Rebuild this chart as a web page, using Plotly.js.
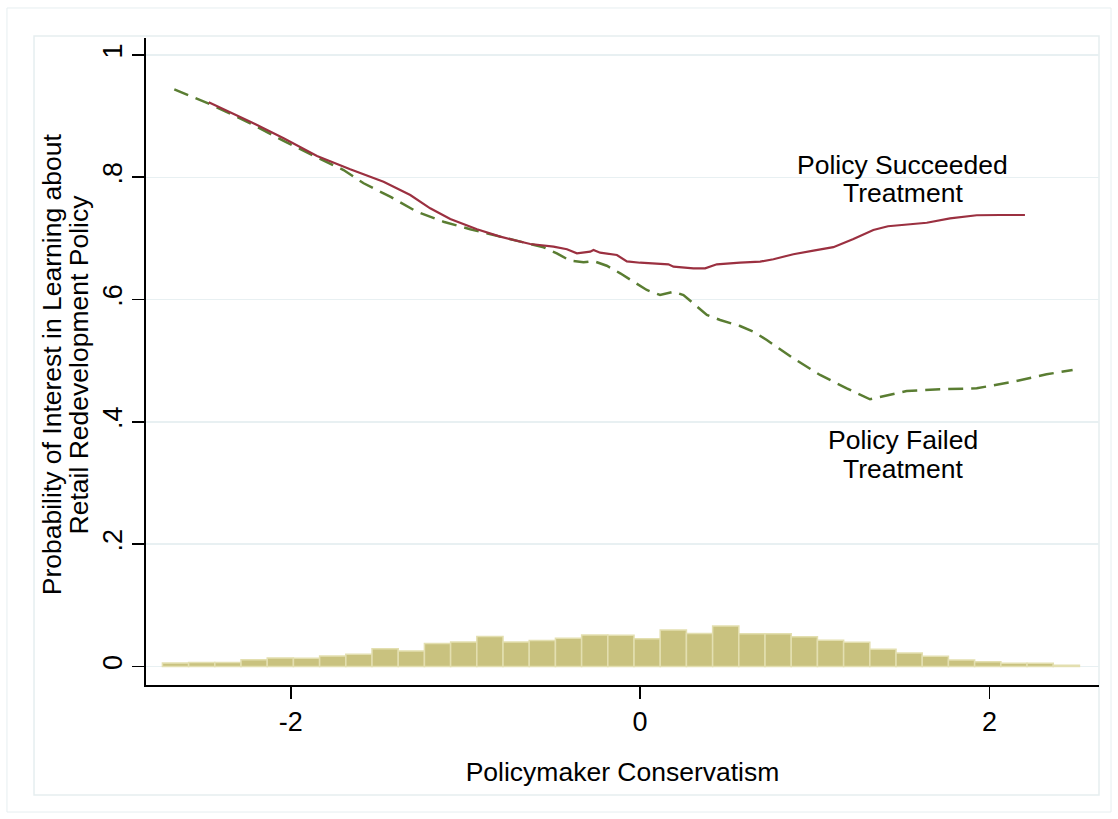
<!DOCTYPE html>
<html>
<head>
<meta charset="utf-8">
<script src="https://cdn.plot.ly/plotly-3.0.1.min.js"></script>
<style>
html,body{margin:0;padding:0;background:#fff;}
#chart{width:1118px;height:819px;}
</style>
</head>
<body>
<div id="chart"></div>
<script>
// Histogram of policymaker conservatism (bin centers, bin width 0.15)
var binCenters = [-2.66,-2.51,-2.36,-2.21,-2.06,-1.91,-1.76,-1.61,-1.46,-1.31,-1.16,-1.01,-0.86,-0.71,-0.56,-0.41,-0.26,-0.11,0.04,0.19,0.34,0.49,0.64,0.79,0.94,1.09,1.24,1.39,1.54,1.69,1.84,1.99,2.14,2.29,2.44];
var binHeights = [0.0055,0.0065,0.0065,0.011,0.014,0.0135,0.017,0.020,0.029,0.0255,0.0375,0.040,0.049,0.040,0.0425,0.046,0.0515,0.051,0.0455,0.0597,0.054,0.066,0.0537,0.0537,0.0487,0.043,0.0395,0.028,0.022,0.0167,0.0106,0.0079,0.0052,0.0052,0.002];

// Policy Succeeded Treatment (solid)
var succX = [-2.470,-2.232,-2.041,-1.850,-1.660,-1.469,-1.316,-1.202,-1.087,-0.934,-0.801,-0.629,-0.496,-0.419,-0.362,-0.286,-0.267,-0.229,-0.133,-0.076,0.000,0.096,0.162,0.191,0.305,0.372,0.439,0.572,0.687,0.763,0.877,0.992,1.106,1.221,1.335,1.419,1.641,1.774,1.927,2.060,2.203];
var succY = [0.9226,0.8909,0.8638,0.8348,0.8131,0.7928,0.7711,0.7493,0.7318,0.7150,0.7029,0.6909,0.6865,0.6823,0.6757,0.6783,0.6811,0.6767,0.6729,0.6626,0.6603,0.6582,0.6577,0.6538,0.6512,0.6512,0.6577,0.6603,0.6620,0.6659,0.6741,0.6800,0.6857,0.6991,0.7138,0.7199,0.7257,0.7329,0.7379,0.7383,0.7383];

// Policy Failed Treatment (dashed)
var failX = [-2.667,-2.461,-2.232,-2.041,-1.850,-1.698,-1.583,-1.431,-1.278,-1.126,-0.973,-0.820,-0.668,-0.553,-0.477,-0.401,-0.324,-0.267,-0.191,-0.114,-0.038,0.038,0.114,0.191,0.248,0.305,0.382,0.458,0.572,0.648,0.725,0.877,1.030,1.183,1.316,1.526,1.717,1.927,2.136,2.327,2.476];
var failY = [0.9439,0.9194,0.8883,0.8594,0.8327,0.8119,0.7902,0.7683,0.7437,0.7274,0.7150,0.7045,0.6930,0.6855,0.6757,0.6636,0.6610,0.6631,0.6554,0.6430,0.6293,0.6157,0.6075,0.6129,0.6075,0.5939,0.5748,0.5666,0.5568,0.5475,0.5339,0.5040,0.4767,0.4549,0.4370,0.4505,0.4533,0.4549,0.4657,0.4778,0.4849];

var yTickVals = [0,0.2,0.4,0.6,0.8,1];
var yTickText = ['0','.2','.4','.6','.8','1'];
var xTickVals = [-2,0,2];
var xTickText = ['-2','0','2'];

var FONT = 'Liberation Sans, Arial, Helvetica, sans-serif';
var TXT = 26.5;
var TICK = 27;

var traces = [
  {type:'bar', x:binCenters, y:binHeights, width:0.15,
   marker:{color:'#c9c27f', line:{color:'#e3dfb0', width:1.5}},
   hoverinfo:'skip', showlegend:false},
  {type:'scatter', mode:'lines', x:failX, y:failY,
   line:{color:'#5a7d32', width:2.5, dash:'15px,8px'}, showlegend:false},
  {type:'scatter', mode:'lines', x:succX, y:succY,
   line:{color:'#9b3040', width:2.2}, showlegend:false}
];

var layout = {
  width:1118, height:819,
  margin:{l:146, r:19, t:38, b:134, pad:0},
  paper_bgcolor:'#ffffff', plot_bgcolor:'#ffffff',
  font:{family:FONT, color:'#000', size:TXT},
  showlegend:false,
  bargap:0,
  xaxis:{
    range:[-2.829,2.627], tickvals:xTickVals, ticktext:xTickText,
    showgrid:false, zeroline:false,
    showline:true, linecolor:'#000', linewidth:1.6,
    ticks:'outside', ticklen:12, tickwidth:1.6, tickcolor:'#000',
    tickfont:{family:FONT, size:TICK, color:'#000'},
    title:{text:'Policymaker Conservatism', font:{family:FONT, size:TXT, color:'#000'}, standoff:26}
  },
  yaxis:{
    range:[-0.0303,1.0278], tickvals:yTickVals, ticktext:yTickText,
    showgrid:true, gridcolor:'#e8f0f2', gridwidth:1.5, zeroline:false,
    showline:true, linecolor:'#000', linewidth:1.6,
    ticks:'outside', ticklen:12, tickwidth:1.6, tickcolor:'#000',
    tickangle:-90,
    tickfont:{family:FONT, size:TICK, color:'#000'}
  },
  shapes:[
    {type:'rect', xref:'paper', yref:'paper', x0:-0.1459, x1:1.0126, y0:-0.1963, y1:1.0464,
     line:{color:'#e6eef0', width:1}, layer:'below'},
    {type:'rect', xref:'paper', yref:'paper', x0:-0.1175, x1:1.0, y0:-0.170, y1:1.0031,
     line:{color:'#e6eef0', width:1.5}, layer:'below'}
  ],
  annotations:[
    {xref:'x', yref:'y', x:1.502, y:0.820, text:'Policy Succeeded', showarrow:false,
     xanchor:'center', yanchor:'middle', font:{family:FONT, size:TXT, color:'#000'}},
    {xref:'x', yref:'y', x:1.502, y:0.774, text:'Treatment', showarrow:false,
     xanchor:'center', yanchor:'middle', font:{family:FONT, size:TXT, color:'#000'}},
    {xref:'x', yref:'y', x:1.502, y:0.370, text:'Policy Failed', showarrow:false,
     xanchor:'center', yanchor:'middle', font:{family:FONT, size:TXT, color:'#000'}},
    {xref:'x', yref:'y', x:1.502, y:0.323, text:'Treatment', showarrow:false,
     xanchor:'center', yanchor:'middle', font:{family:FONT, size:TXT, color:'#000'}},
    {xref:'paper', yref:'paper', x:-0.0985, y:0.496, text:'Probability of Interest in Learning about', showarrow:false,
     textangle:-90, xanchor:'center', yanchor:'middle', font:{family:FONT, size:TXT, color:'#000'}},
    {xref:'paper', yref:'paper', x:-0.0700, y:0.496, text:'Retail Redevelopment Policy', showarrow:false,
     textangle:-90, xanchor:'center', yanchor:'middle', font:{family:FONT, size:TXT, color:'#000'}}
  ]
};

Plotly.newPlot('chart', traces, layout, {displayModeBar:false, staticPlot:true});
</script>
</body>
</html>
